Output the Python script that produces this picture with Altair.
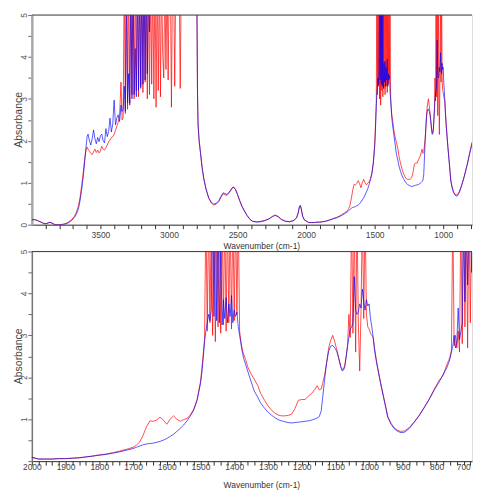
import altair as alt
import pandas as pd

# ---- Spectrum data (wavenumber cm-1, absorbance) ----
# Region A: baseline and O-H rise
wn_a = [4000, 3980, 3960, 3940, 3920, 3905, 3890, 3875, 3860, 3845, 3830, 3800, 3775,
        3750, 3730, 3710, 3690, 3675, 3660, 3648, 3636, 3625, 3615, 3605, 3597]
blue_a = [0.12, 0.12, 0.10, 0.07, 0.04, 0.02, 0.03, 0.05, 0.05, 0.02, 0.00, 0.00, 0.00,
          0.02, 0.05, 0.10, 0.17, 0.25, 0.38, 0.58, 0.85, 1.15, 1.50, 1.85, 2.10]
red_a = [0.12, 0.12, 0.10, 0.07, 0.04, 0.02, 0.03, 0.05, 0.05, 0.02, 0.00, 0.00, 0.01,
         0.03, 0.07, 0.12, 0.20, 0.30, 0.45, 0.66, 0.95, 1.25, 1.55, 1.78, 1.85]

# Region B: noisy plateau
wn_b = [3590, 3580, 3570, 3560, 3550, 3540, 3530, 3520, 3510, 3500, 3490, 3480, 3470,
        3460, 3450, 3440, 3430, 3420, 3410, 3400, 3390, 3380, 3370, 3360, 3350, 3342]
blue_b = [2.16, 2.00, 1.90, 2.05, 2.26, 2.05, 1.93, 2.08, 1.98, 2.12, 2.16, 2.00, 1.95,
          2.29, 2.10, 2.22, 2.54, 2.21, 2.40, 2.97, 2.38, 2.55, 2.62, 2.46, 2.85, 2.70]
red_b = [1.80, 1.75, 1.70, 1.67, 1.74, 1.80, 1.72, 1.78, 1.71, 1.76, 1.87, 1.80, 1.78,
         1.84, 1.90, 1.98, 2.02, 2.08, 2.10, 2.15, 2.25, 2.35, 2.45, 2.60, 3.40, 2.50]

# Region C: saturated band with spikes
wn_c = [3334, 3326, 3318, 3310, 3302, 3294, 3286, 3278, 3270, 3262,
        3254, 3246, 3238, 3230, 3222, 3214, 3206, 3198, 3190, 3182,
        3174, 3166, 3158, 3150, 3142, 3134, 3126, 3118, 3110, 3102,
        3094, 3086, 3078, 3070, 3062, 3054, 3046, 3038, 3030, 3022,
        3014, 3006, 2998, 2990, 2982, 2974, 2966, 2958, 2950, 2942,
        2934, 2926, 2918, 2910, 2902, 2894]
blue_c = [2.75, 3.30, 2.70, 6.00, 2.90, 3.60, 2.85, 6.00, 3.00, 6.00,
          3.10, 4.20, 3.05, 6.00, 3.20, 6.00, 3.25, 6.00, 3.35, 6.00,
          3.45, 6.00, 3.60, 6.00, 4.60, 6.00, 6.00, 6.00, 6.00, 6.00,
          6.00, 6.00, 6.00, 6.00, 6.00, 6.00, 6.00, 6.00, 6.00, 6.00,
          6.00, 6.00, 6.00, 6.00, 6.00, 6.00, 6.00, 6.00, 6.00, 6.00,
          6.00, 6.00, 6.00, 6.00, 6.00, 6.00]
red_c = [2.55, 6.00, 2.65, 6.00, 2.75, 6.00, 2.90, 6.00, 3.10, 6.00,
         3.00, 6.00, 3.20, 6.00, 3.05, 6.00, 3.30, 6.00, 3.15, 6.00,
         3.40, 6.00, 3.00, 6.00, 3.10, 6.00, 3.35, 6.00, 3.00, 6.00,
         2.80, 6.00, 3.20, 6.00, 3.05, 6.00, 4.10, 3.50, 6.00, 3.70,
         6.00, 3.45, 6.00, 6.00, 2.80, 6.00, 6.00, 3.30, 6.00, 6.00,
         6.00, 6.00, 3.25, 6.00, 6.00, 6.00]

# Region E: drop and 2000-2800 bands
wn_e = [2860, 2820, 2800, 2796, 2792, 2788, 2780, 2770, 2758, 2746,
        2730, 2710, 2690, 2673, 2655, 2637, 2620, 2605, 2590, 2577,
        2560, 2540, 2528, 2515, 2500, 2485, 2468, 2450, 2431, 2410,
        2390, 2360, 2330, 2300, 2270, 2245, 2226, 2205, 2180, 2150,
        2120, 2090, 2070, 2058, 2048, 2042, 2035, 2025, 2012]
blue_e = [6.00, 6.00, 6.00, 5.20, 3.20, 2.40, 2.00, 1.70, 1.35, 1.10,
          0.85, 0.64, 0.53, 0.49, 0.51, 0.57, 0.68, 0.76, 0.74, 0.72,
          0.78, 0.88, 0.90, 0.84, 0.72, 0.58, 0.44, 0.33, 0.22, 0.13,
          0.08, 0.06, 0.07, 0.10, 0.14, 0.19, 0.22, 0.19, 0.12, 0.08,
          0.07, 0.10, 0.16, 0.28, 0.44, 0.46, 0.38, 0.20, 0.11]
red_e = [6.00, 6.00, 6.00, 5.00, 3.10, 2.40, 2.00, 1.72, 1.36, 1.10,
         0.85, 0.63, 0.51, 0.47, 0.49, 0.55, 0.66, 0.74, 0.71, 0.70,
         0.76, 0.86, 0.89, 0.84, 0.72, 0.58, 0.44, 0.33, 0.22, 0.13,
         0.08, 0.07, 0.08, 0.10, 0.14, 0.20, 0.23, 0.20, 0.13, 0.08,
         0.07, 0.10, 0.16, 0.27, 0.43, 0.45, 0.37, 0.20, 0.11]

# Region F: 2000-1510
wn_f = [2000, 1980, 1960, 1940, 1920, 1900, 1880, 1860, 1840, 1820,
        1800, 1780, 1760, 1740, 1720, 1700, 1690, 1680, 1670, 1660,
        1650, 1640, 1630, 1620, 1610, 1600, 1590, 1580, 1570, 1560,
        1550, 1540, 1530, 1520, 1510]
blue_f = [0.09, 0.05, 0.05, 0.05, 0.06, 0.06, 0.07, 0.08, 0.10, 0.12,
          0.14, 0.16, 0.19, 0.22, 0.26, 0.30, 0.33, 0.36, 0.39, 0.41,
          0.42, 0.43, 0.45, 0.47, 0.50, 0.54, 0.59, 0.64, 0.71, 0.78,
          0.86, 0.96, 1.08, 1.22, 1.45]
red_f = [0.09, 0.05, 0.05, 0.05, 0.06, 0.06, 0.07, 0.08, 0.10, 0.12,
         0.15, 0.17, 0.20, 0.24, 0.28, 0.33, 0.38, 0.46, 0.62, 0.82,
         0.96, 0.95, 0.98, 1.05, 0.98, 0.88, 1.00, 1.08, 1.00, 0.95,
         0.99, 1.02, 1.10, 1.24, 1.47]

# Region G: 1500-1376 saturated band
wn_g = [1500, 1496, 1492, 1488, 1484, 1480, 1476, 1472, 1468, 1464,
        1460, 1456, 1452, 1448, 1444, 1440, 1436, 1432, 1428, 1424,
        1420, 1416, 1412, 1408, 1404, 1400, 1396, 1392, 1388, 1384,
        1380, 1376]
blue_g = [1.85, 2.10, 2.45, 2.85, 3.10, 3.30, 3.50, 3.35, 3.60, 6.00,
          3.45, 6.00, 3.35, 6.00, 3.30, 5.00, 3.25, 3.85, 3.40, 3.90,
          3.30, 3.75, 3.45, 3.95, 3.30, 3.60, 3.45, 3.55, 3.20, 3.00,
          2.80, 2.60]
red_g = [1.90, 2.20, 2.55, 2.90, 6.00, 3.10, 6.00, 3.30, 6.00, 3.00,
         6.00, 2.85, 6.00, 3.20, 6.00, 3.05, 6.00, 3.25, 6.00, 3.10,
         6.00, 3.30, 6.00, 3.15, 6.00, 3.35, 6.00, 3.50, 6.00, 3.10,
         2.85, 2.65]

# Region H: 1372-1064
wn_h = [1372, 1366, 1360, 1350, 1341, 1330, 1322, 1310, 1300, 1290,
        1280, 1270, 1260, 1250, 1240, 1230, 1220, 1210, 1200, 1190,
        1180, 1170, 1160, 1154, 1148, 1142, 1138, 1132, 1126, 1120,
        1114, 1108, 1102, 1096, 1090, 1084, 1080, 1076, 1072, 1068,
        1064]
blue_h = [2.45, 2.30, 2.15, 1.90, 1.68, 1.52, 1.39, 1.26, 1.17, 1.10,
          1.04, 0.99, 0.96, 0.94, 0.92, 0.91, 0.92, 0.93, 0.94, 0.95,
          0.96, 0.98, 1.01, 1.03, 1.06, 1.20, 1.50, 1.95, 2.35, 2.62,
          2.74, 2.76, 2.70, 2.62, 2.45, 2.25, 2.15, 2.17, 2.25, 2.50,
          2.75]
red_h = [2.55, 2.42, 2.25, 2.08, 1.96, 1.80, 1.62, 1.45, 1.32, 1.22,
         1.15, 1.10, 1.08, 1.08, 1.09, 1.12, 1.25, 1.45, 1.47, 1.47,
         1.55, 1.62, 1.72, 1.80, 1.70, 1.72, 1.85, 2.05, 2.35, 2.70,
         2.88, 3.00, 2.85, 2.66, 2.45, 2.25, 2.19, 2.20, 2.30, 2.50,
         2.75]

# Region I: 1060-996 saturated band
wn_i = [1060, 1056, 1052, 1048, 1044, 1040, 1036, 1032, 1028, 1024,
        1020, 1016, 1012, 1008, 1004, 1000, 996]
blue_i = [2.95, 3.15, 3.20, 3.30, 4.40, 3.60, 3.50, 3.55, 3.75, 3.65,
          4.10, 3.80, 3.60, 3.85, 3.70, 3.75, 3.40]
red_i = [3.50, 2.95, 6.00, 3.05, 6.00, 2.60, 6.00, 3.30, 2.15, 3.60,
         6.00, 3.40, 6.00, 3.50, 3.20, 3.15, 3.05]

# Region J: 992-764
wn_j = [992, 988, 984, 978, 972, 966, 958, 950, 945, 935,
        925, 915, 906, 895, 881, 867, 852, 837, 822, 808,
        793, 780, 770, 764]
blue_j = [3.20, 2.95, 2.65, 2.35, 2.10, 1.85, 1.55, 1.25, 1.05, 0.88,
          0.77, 0.71, 0.68, 0.69, 0.78, 0.92, 1.08, 1.27, 1.47, 1.68,
          1.88, 2.08, 2.22, 2.35]
red_j = [3.00, 2.95, 2.70, 2.38, 2.12, 1.87, 1.57, 1.27, 1.07, 0.90,
         0.79, 0.73, 0.71, 0.72, 0.80, 0.93, 1.09, 1.28, 1.48, 1.70,
         1.92, 2.05, 2.30, 2.40]

# Region K: 760-672 saturated band
wn_k = [760, 756, 752, 748, 744, 740, 736, 732, 728, 724,
        720, 716, 712, 708, 704, 700, 696, 692, 688, 684,
        680, 676, 672]
blue_k = [2.45, 2.60, 2.75, 3.00, 2.70, 2.85, 3.65, 2.90, 3.10, 3.30,
          6.00, 3.80, 6.00, 4.20, 6.00, 6.00, 4.50, 6.00, 6.00, 6.00,
          6.00, 6.00, 4.00]
red_k = [2.50, 2.65, 6.00, 2.75, 3.00, 2.70, 3.10, 2.60, 6.00, 2.80,
         6.00, 3.20, 6.00, 2.70, 6.00, 3.30, 6.00, 2.80, 6.00, 6.00,
         2.65, 6.00, 6.00]

wn = wn_a + wn_b + wn_c + wn_e + wn_f + wn_g + wn_h + wn_i + wn_j + wn_k
blue = blue_a + blue_b + blue_c + blue_e + blue_f + blue_g + blue_h + blue_i + blue_j + blue_k
red = red_a + red_b + red_c + red_e + red_f + red_g + red_h + red_i + red_j + red_k

n = len(wn)
df = pd.DataFrame({
    "wn": wn + wn,
    "A": red + blue,
    "s": ["red"] * n + ["blue"] * n,
})
top_df = pd.DataFrame({"t": [5]})

FONT = "Liberation Sans"
YTICKS = [0, 0.5, 1, 1.5, 2, 2.5, 3, 3.5, 4, 4.5, 5]
TOP_XTICKS = list(range(3900, 799, -100))
BOT_XTICKS = list(range(2000, 699, -20))
PLOT_W = 443


def panel(lo, hi, xticks, step, ymin_label, lab_pad, title_pad, ydom_color, ydom_w):
    xaxis = alt.Axis(
        values=xticks,
        labelExpr=f"datum.value % {step} == 0 && datum.value < 4000 ? format(datum.value, 'd') : ''",
        labelAlign={"expr": "datum.value <= 700 ? 'right' : 'center'"},
        title="Wavenumber (cm-1)",
        titleFont=FONT, titleFontSize=8.5, titleFontWeight="normal", titleColor="#333",
        titleX=231, titleAlign="center", titlePadding=title_pad,
        labelFont=FONT, labelFontSize=8.5, labelColor="#444", labelPadding=lab_pad,
        labelOverlap=False, labelFlush=False,
        domainColor="#333", domainWidth=1, tickColor="#333", tickSize=4, grid=False,
    )
    yaxis = alt.Axis(
        values=YTICKS,
        labelExpr=f"datum.value % 1 == 0 && datum.value >= {ymin_label} ? format(datum.value, 'd') : ''",
        labelAngle=270, labelAlign="center", labelBaseline="alphabetic",
        labelFont=FONT, labelFontSize=8.5, labelColor="#555", labelPadding=1,
        labelOverlap=False, labelFlush=False,
        title="Absorbance", titleFont=FONT, titleFontSize=10.5, titleFontWeight="normal",
        titleColor="#444", titleAngle=270, titleAlign="center", titleBaseline="alphabetic",
        titleX=-10, titleY=105,
        domainColor=ydom_color, domainWidth=ydom_w, tickColor="#666", tickSize=4, grid=False,
    )
    xs = alt.Scale(domain=[hi, lo], reverse=True, nice=False, zero=False)
    ys = alt.Scale(domain=[0, 5], nice=False, zero=False)
    base = alt.Chart(df)
    red_line = base.transform_filter("datum.s == 'red'").mark_line(
        color="#ff0000", strokeWidth=1, opacity=0.7, clip=True
    ).encode(x=alt.X("wn:Q", scale=xs, axis=xaxis), y=alt.Y("A:Q", scale=ys, axis=yaxis))
    blue_line = base.transform_filter("datum.s == 'blue'").mark_line(
        color="#0000ff", strokeWidth=1, opacity=0.65, clip=True
    ).encode(x=alt.X("wn:Q", scale=xs, axis=xaxis), y=alt.Y("A:Q", scale=ys, axis=yaxis))
    border = alt.Chart(top_df).mark_rule(color="#444", strokeWidth=1).encode(
        y=alt.Y("t:Q", scale=ys, axis=yaxis)
    )
    return alt.layer(red_line, blue_line, border).properties(width=PLOT_W, height=211)


top = panel(4000, 790, TOP_XTICKS, 500, 0, 2, 2, "#a8a8a8", 2.5)
bottom = panel(2000, 695, BOT_XTICKS, 100, 1, -3, 10, "#777", 1.5)

chart = alt.vconcat(top, bottom, spacing=-2).properties(
    padding={"left": 5, "top": 2.5, "right": 0, "bottom": 0}
).configure_view(stroke=None).configure(background="white")

chart.save("out.html", embed_options={"renderer": "svg", "actions": False})
